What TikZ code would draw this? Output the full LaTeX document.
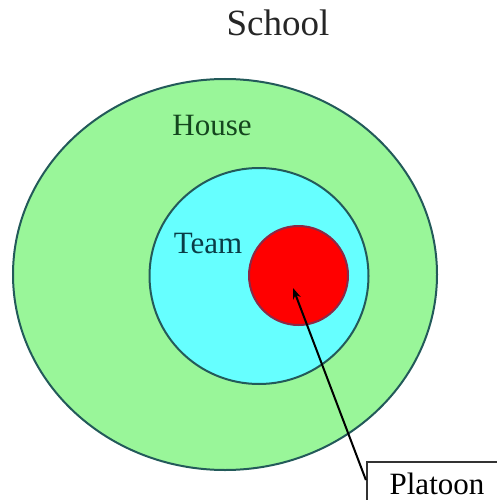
\documentclass[tikz,border=0pt]{standalone}
\usepackage{fontspec}
\setmainfont{Liberation Serif}
\usetikzlibrary{shapes.geometric,arrows.meta,calc}
\definecolor{ringline}{RGB}{35,90,90}
\definecolor{housefill}{RGB}{153,246,153}
\definecolor{teamfill}{RGB}{102,255,255}
\definecolor{platfill}{RGB}{255,0,0}
\definecolor{platline}{RGB}{140,40,70}
\definecolor{housetext}{RGB}{20,70,30}
\definecolor{teamtext}{RGB}{10,60,70}
\tikzset{
  ring/.style={ellipse, draw=ringline, line width=2pt, inner sep=0pt},
  lbl/.style={inner sep=0pt, font=\fontsize{31}{31}\selectfont},
  boxlbl/.style={draw=black!80, line width=2.2pt, fill=white, inner sep=0pt,
    minimum width=140pt, minimum height=44pt, font=\fontsize{31}{31}\selectfont},
  conn/.style={-{Stealth[length=11pt,width=8pt]}, line width=2pt, black}
}
\begin{document}
\begin{tikzpicture}[x=1pt,y=-1pt]
\useasboundingbox (0,0) rectangle (496,500);
\fill[white] (0,0) rectangle (496,500);
\node[inner sep=0pt, font=\fontsize{37}{37}\selectfont, text=black!85] (school) at (278,23) {School};
\node[ring, fill=housefill, minimum width=424pt, minimum height=391pt] (house) at (225,274.5) {};
\node[ring, fill=teamfill, minimum width=219pt, minimum height=216pt] (team) at (259,276) {};
\node[ellipse, draw=platline, line width=2pt, fill=platfill, minimum width=99pt, minimum height=99pt, inner sep=0pt] (red) at (298.5,275.5) {};
\node[lbl, text=housetext] (houselbl) at (212,126) {House};
\node[lbl, text=teamtext] (teamlbl) at (208,244) {Team};
\node[boxlbl] (plat) at (437,484) {\raisebox{-3pt}{Platoon}};
\coordinate (tip) at (293,288);
\draw[conn] ([yshift=4pt]plat.west) -- (tip);
\end{tikzpicture}
\end{document}
